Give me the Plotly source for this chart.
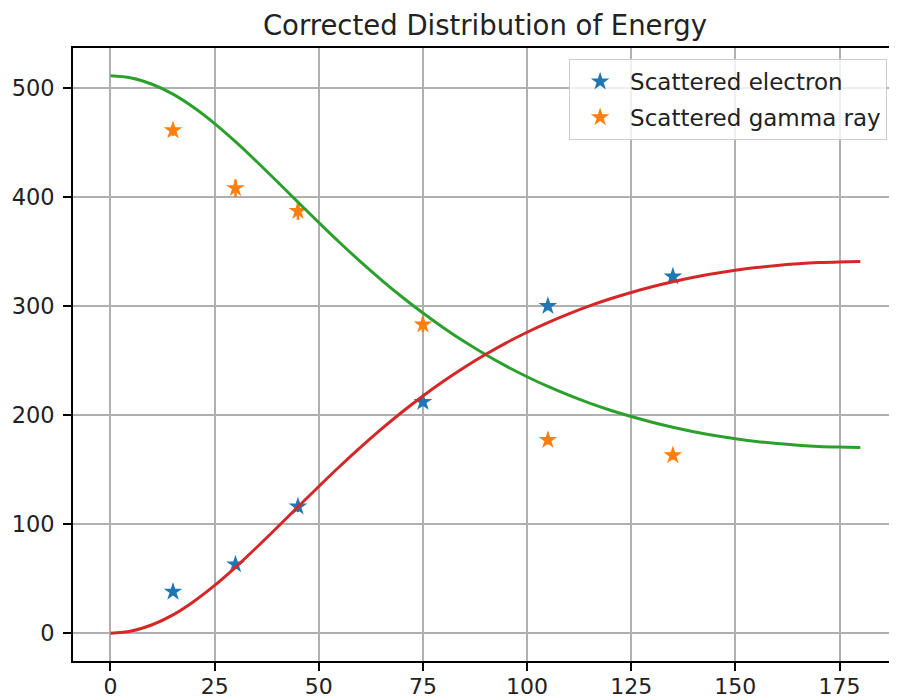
import plotly.graph_objects as go

# Measured data points (angle in degrees, energy in keV)
angles = [15, 30, 45, 75, 105, 135]
electron_energy = [38, 63, 116, 212, 300, 327]
electron_err = [3, 4, 5, 4, 4, 4]
gamma_energy = [461, 408, 387, 283, 177, 163]
gamma_err = [5, 8, 8, 7, 4, 4]

# Theoretical curves (every 5 degrees)
curve_angles = [0, 5, 10, 15, 20, 25, 30, 35, 40, 45, 50, 55, 60, 65, 70, 75, 80, 85, 90,
                95, 100, 105, 110, 115, 120, 125, 130, 135, 140, 145, 150, 155, 160, 165,
                170, 175, 180]
gamma_curve = [511.0, 509.1, 503.3, 494.2, 481.9, 467.2, 450.6, 432.7, 414.1, 395.2,
               376.5, 358.2, 340.7, 324.0, 308.2, 293.5, 279.8, 267.1, 255.5,
               244.8, 235.1, 226.2, 218.2, 210.9, 204.4, 198.6, 193.4, 188.8, 184.7,
               181.3, 178.3, 175.8, 173.8, 172.3, 171.2, 170.6, 170.3]
electron_curve = [0.0, 1.9, 7.7, 16.8, 29.1, 43.8, 60.4, 78.3, 96.9, 115.8,
                  134.5, 152.8, 170.3, 187.0, 202.8, 217.5, 231.2, 243.9, 255.5,
                  266.2, 275.9, 284.8, 292.8, 300.1, 306.6, 312.4, 317.6, 322.2, 326.3,
                  329.7, 332.7, 335.2, 337.2, 338.7, 339.8, 340.4, 340.7]

x_ticks = [0, 25, 50, 75, 100, 125, 150, 175]
y_ticks = [0, 100, 200, 300, 400, 500]

FONT = "DejaVu Sans"
fig = go.Figure()

fig.add_trace(go.Scatter(
    x=angles, y=electron_energy, mode="markers", name="Scattered electron",
    legendgroup="e",
    marker=dict(symbol="star", size=14, color="#1f77b4", line=dict(width=0)),
    error_y=dict(type="data", array=electron_err, color="#1f77b4", thickness=2.5, width=0),
))
fig.add_trace(go.Scatter(
    x=angles, y=gamma_energy, mode="markers", name="Scattered gamma ray",
    legendgroup="g",
    marker=dict(symbol="star", size=14, color="#ff7f0e", line=dict(width=0)),
    error_y=dict(type="data", array=gamma_err, color="#ff7f0e", thickness=2.5, width=0),
))
fig.add_trace(go.Scatter(
    x=curve_angles, y=gamma_curve, mode="lines", showlegend=False,
    line=dict(color="#2ca02c", width=3, shape="spline"),
))
fig.add_trace(go.Scatter(
    x=curve_angles, y=electron_curve, mode="lines", showlegend=False,
    line=dict(color="#d62728", width=3, shape="spline"),
))

axis_common = dict(
    showgrid=True, gridcolor="#b0b0b0", gridwidth=1.5,
    showline=True, linecolor="black", linewidth=1.6, mirror=True,
    ticks="outside", ticklen=8, tickwidth=1.6, tickcolor="black",
    zeroline=False, automargin=False,
)

# The page body adds an 8px offset, so the figure is 8px smaller on each side used.
fig.update_layout(
    width=889, height=692,
    margin=dict(l=65, r=0, t=40, b=39),
    paper_bgcolor="white", plot_bgcolor="white",
    title=dict(text="Corrected Distribution of Energy", x=0.5, xref="paper",
               y=1 - 17 / 692, yref="container", yanchor="middle", xanchor="center",
               font=dict(family=FONT, size=27.5, color="#222222")),
    xaxis=dict(range=[-9, 188.8], tickvals=x_ticks, ticktext=[str(v) for v in x_ticks],
               ticklabelstandoff=-3, tickfont=dict(family=FONT, size=22, color="#222222"),
               **axis_common),
    yaxis=dict(range=[-25.55, 536.55], tickvals=y_ticks, ticktext=[str(v) for v in y_ticks],
               ticklabelstandoff=4, tickfont=dict(family=FONT, size=22.5, color="#222222"),
               **axis_common),
    legend=dict(x=0.988, y=0.982, xanchor="right", yanchor="top",
                bgcolor="rgba(255,255,255,0.8)", bordercolor="#cccccc", borderwidth=1,
                itemwidth=50, tracegroupgap=3,
                font=dict(family=FONT, size=23, color="#222222")),
    showlegend=True,
)

fig.write_html("out.html")
